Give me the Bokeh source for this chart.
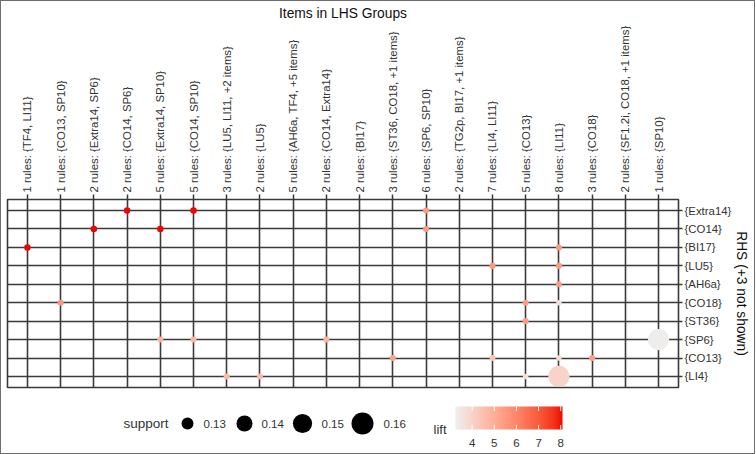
import math
import numpy as np
from bokeh.plotting import figure
from bokeh.models import Range1d, FixedTicker, LinearColorMapper, ColumnDataSource
from bokeh.layouts import column
from bokeh.core.properties import value
from bokeh.embed import file_html
from bokeh.resources import INLINE

# ---------------- data ----------------
lhs_labels = [
    "1 rules: {TF4, LI11}", "1 rules: {CO13, SP10}", "2 rules: {Extra14, SP6}",
    "2 rules: {CO14, SP6}", "5 rules: {Extra14, SP10}", "5 rules: {CO14, SP10}",
    "3 rules: {LU5, LI11, +2 items}", "2 rules: {LU5}", "5 rules: {AH6a, TF4, +5 items}",
    "2 rules: {CO14, Extra14}", "2 rules: {BI17}", "3 rules: {ST36, CO18, +1 items}",
    "6 rules: {SP6, SP10}", "2 rules: {TG2p, BI17, +1 items}", "7 rules: {LI4, LI11}",
    "5 rules: {CO13}", "8 rules: {LI11}", "3 rules: {CO18}",
    "2 rules: {SF1.2i, CO18, +1 items}", "1 rules: {SP10}",
]
rhs_labels = ["{Extra14}", "{CO14}", "{BI17}", "{LU5}", "{AH6a}",
              "{CO18}", "{ST36}", "{SP6}", "{CO13}", "{LI4}"]

point_lhs = [0, 1, 2, 3, 4, 4, 5, 5, 6, 7, 9, 11, 12, 12, 14, 14, 15, 15, 15,
             16, 16, 16, 16, 16, 16, 17, 19]
point_rhs = ["{BI17}", "{CO18}", "{CO14}", "{Extra14}", "{CO14}", "{SP6}", "{Extra14}", "{SP6}",
             "{LI4}", "{LI4}", "{SP6}", "{CO13}", "{Extra14}", "{CO14}", "{LU5}", "{CO13}",
             "{CO18}", "{ST36}", "{LI4}", "{BI17}", "{LU5}", "{AH6a}", "{CO18}", "{CO13}",
             "{LI4}", "{CO13}", "{SP6}"]
point_support = [0.121, 0.1205, 0.121, 0.121, 0.121, 0.1205, 0.121, 0.1205,
                 0.1205, 0.1205, 0.1205, 0.1205, 0.1205, 0.1205, 0.1205, 0.1203,
                 0.1205, 0.1205, 0.120, 0.1205, 0.1205, 0.1205, 0.120, 0.120,
                 0.157, 0.1205, 0.157]
point_lift = [8.05, 5.6, 8.05, 8.05, 8.05, 4.8, 8.05, 4.8,
              4.7, 4.7, 4.8, 5.3, 5.5, 5.5, 5.6, 4.4,
              5.4, 5.4, 3.7, 5.5, 5.5, 5.5, 3.7, 3.8,
              4.0, 5.4, 3.3]

support_keys = [0.13, 0.14, 0.15, 0.16]
lift_ticks = [4, 5, 6, 7, 8]
lift_low, lift_high = 3.25, 8.08

# ---------------- scales ----------------
def size_of(s):
    return math.sqrt(max(144 + 11300 * (s - 0.13), 4.0))

def _to_lab(hexc):
    c = np.array([int(hexc[i:i + 2], 16) for i in (1, 3, 5)]) / 255.0
    lin = np.where(c <= 0.04045, c / 12.92, ((c + 0.055) / 1.055) ** 2.4)
    M = np.array([[0.4124, 0.3576, 0.1805], [0.2126, 0.7152, 0.0722], [0.0193, 0.1192, 0.9505]])
    xyz = M @ lin / np.array([0.95047, 1.0, 1.08883])
    f = np.where(xyz > 0.008856, np.cbrt(xyz), 7.787 * xyz + 16 / 116)
    return np.array([116 * f[1] - 16, 500 * (f[0] - f[1]), 200 * (f[1] - f[2])])

def _from_lab(lab):
    L, a, b = lab
    fy = (L + 16) / 116
    fx = fy + a / 500
    fz = fy - b / 200
    f = np.array([fx, fy, fz])
    xyz = np.where(f ** 3 > 0.008856, f ** 3, (f - 16 / 116) / 7.787) * np.array([0.95047, 1.0, 1.08883])
    Mi = np.array([[3.2406, -1.5372, -0.4986], [-0.9689, 1.8758, 0.0415], [0.0557, -0.2040, 1.0570]])
    lin = np.clip(Mi @ xyz, 0, 1)
    c = np.where(lin <= 0.0031308, 12.92 * lin, 1.055 * lin ** (1 / 2.4) - 0.055)
    r, g, bb = (np.clip(c, 0, 1) * 255).round().astype(int)
    return "#%02x%02x%02x" % (r, g, bb)

lab_lo, lab_hi = _to_lab("#eeeeee"), _to_lab("#ee0000")
palette = [_from_lab(lab_lo + (lab_hi - lab_lo) * t) for t in np.linspace(0, 1, 256)]
mapper = LinearColorMapper(palette=palette, low=lift_low, high=lift_high)

FONT = "Liberation Sans"
GRID = "#3a3a3a"
TXT = "#333333"

# frame of the main panel in page pixels (left, right)
FR_L, FR_R = 7, 678
B_LEFT, B_RIGHT = 6, 76

# ---------------- main plot ----------------
n_l, n_r = len(lhs_labels), len(rhs_labels)
p = figure(frame_width=FR_R - FR_L, frame_height=188,
           x_range=Range1d(-0.6, n_l - 1 + 0.6), y_range=Range1d(-0.6, n_r - 1 + 0.6),
           x_axis_location="above", y_axis_location="right",
           output_backend="svg", toolbar_location=None,
           min_border_left=B_LEFT, min_border_right=B_RIGHT, min_border_top=198, min_border_bottom=6)

src = ColumnDataSource(dict(
    x=point_lhs,
    y=[n_r - 1 - rhs_labels.index(r) for r in point_rhs],
    size=[size_of(s) for s in point_support],
    lift=point_lift,
))

xt = FixedTicker(ticks=list(range(n_l)), minor_ticks=[])
yt = FixedTicker(ticks=list(range(n_r)), minor_ticks=[])
p.xaxis.ticker = xt
p.yaxis.ticker = yt
p.xgrid.ticker = xt
p.ygrid.ticker = yt
p.xaxis.major_label_overrides = {i: lab for i, lab in enumerate(lhs_labels)}
p.yaxis.major_label_overrides = {n_r - 1 - i: lab for i, lab in enumerate(rhs_labels)}
p.xaxis.major_label_orientation = "vertical"

for ax in (p.xaxis, p.yaxis):
    ax.axis_line_color = None
    ax.major_tick_in = 0
    ax.major_tick_line_color = GRID
    ax.major_tick_line_width = 1.5
    ax.major_label_text_font = FONT
    ax.major_label_text_font_size = "11.4px"
    ax.major_label_text_color = TXT
    ax.axis_label_text_font = FONT
    ax.axis_label_text_font_size = "13.8px"
    ax.axis_label_text_font_style = "normal"
    ax.axis_label_text_color = "#111111"

p.xaxis.major_tick_out = 5
p.xaxis.major_label_standoff = 2
p.xaxis.axis_label = "Items in LHS Groups"
p.xaxis.axis_label_standoff = 2
p.yaxis.major_tick_out = 4
p.yaxis.major_label_standoff = 2
p.yaxis.axis_label = "RHS (+3 not shown)"
p.yaxis.axis_label_standoff = 0

p.grid.grid_line_color = GRID
p.grid.grid_line_width = 1.6
p.outline_line_color = GRID
p.outline_line_width = 1.6
p.background_fill_color = "white"

p.scatter(x="x", y="y", size="size", source=src,
          fill_color={"field": "lift", "transform": mapper}, line_color=None)

# ---------------- legend strip (frame aligned with the main panel) ----------------
lg = figure(frame_width=FR_R - FR_L, frame_height=60,
            x_range=Range1d(FR_L, FR_R), y_range=Range1d(453, 393),
            output_backend="svg", toolbar_location=None,
            x_axis_location=None, y_axis_location=None,
            min_border_left=B_LEFT, min_border_right=B_RIGHT, min_border_top=0, min_border_bottom=0)
lg.outline_line_color = None
lg.grid.visible = False

key_y = 423
key_x = [187, 244, 302, 362]
key_lab_x = [203, 261, 321, 383]
lg.text([123], [key_y], text=["support"], text_font=value(FONT), text_font_size="13.5px",
        text_baseline="middle", text_color=TXT)
lg.scatter(key_x, [key_y] * len(key_x), size=[size_of(s) for s in support_keys],
           fill_color="black", line_color=None)
lg.text(key_lab_x, [key_y] * len(key_x), text=["%.2f" % s for s in support_keys],
        text_font=value(FONT), text_font_size="11.5px", text_baseline="middle",
        text_color=TXT)

bar_x0, bar_x1, bar_y0, bar_y1 = 455, 562, 406, 429
lg.text([433], [429], text=["lift"], text_font=value(FONT), text_font_size="13px",
        text_baseline="middle", text_color=TXT)
lg.image(image=[np.linspace(lift_low, lift_high, 256)[None, :]], x=bar_x0, y=bar_y0,
         dw=bar_x1 - bar_x0, dh=bar_y1 - bar_y0, color_mapper=mapper)

def lift_px(v):
    return bar_x0 + (v - lift_low) / (lift_high - lift_low) * (bar_x1 - bar_x0)

tx = [lift_px(v) for v in lift_ticks]
tick_len = (bar_y1 - bar_y0) / 5
lg.segment(x0=tx, y0=[bar_y0] * len(tx), x1=tx, y1=[bar_y0 + tick_len] * len(tx),
           line_color="white", line_width=1)
lg.segment(x0=tx, y0=[bar_y1 - tick_len] * len(tx), x1=tx, y1=[bar_y1] * len(tx),
           line_color="white", line_width=1)
lg.text(tx, [442] * len(tx), text=[str(v) for v in lift_ticks], text_font=value(FONT),
        text_font_size="11.5px", text_baseline="middle", text_align="center",
        text_color=TXT)

layout = column(p, lg, spacing=0, styles={"border": "1px solid #6e6e6e"})
open("out.html", "w").write(file_html(layout, INLINE))
